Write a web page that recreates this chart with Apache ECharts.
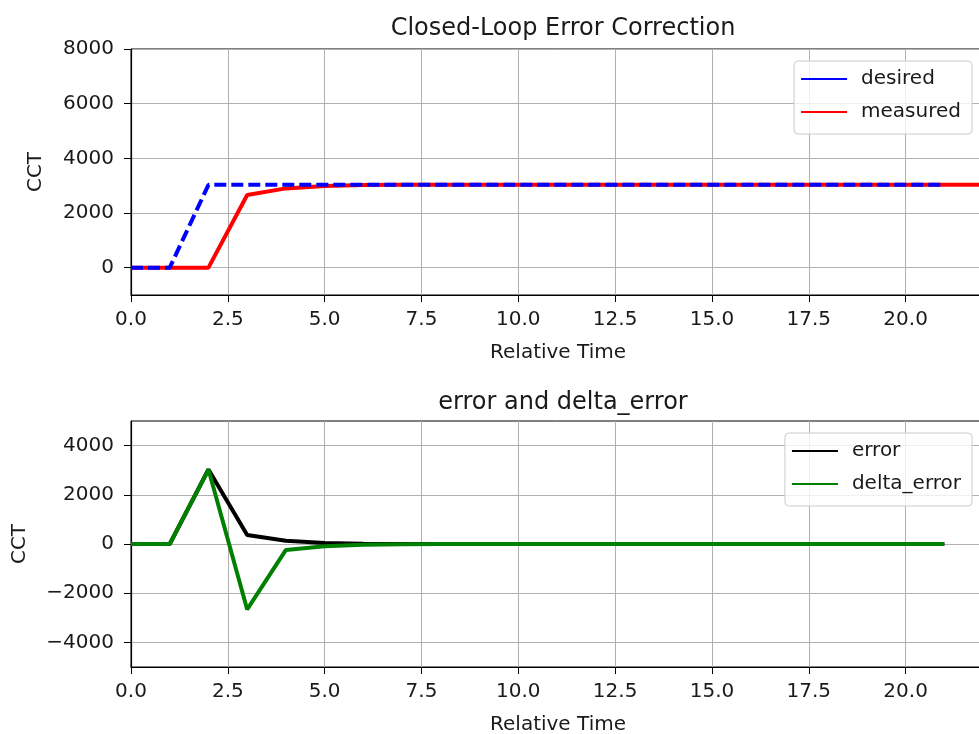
<!DOCTYPE html>
<html>
<head>
<meta charset="utf-8">
<script src="https://cdn.jsdelivr.net/npm/echarts@6/dist/echarts.min.js"></script>
<style>
html, body { margin: 0; padding: 0; background: #fff; }
#main { width: 979px; height: 734px; }
</style>
</head>
<body>
<div id="main"></div>
<script>
// time steps (seconds, relative)
var timeDesired = [0, 1, 2, 3, 4, 5, 6, 7, 8, 9, 10, 11, 12, 13, 14, 15, 16, 17, 18, 19, 20, 21];
var timeMeasured = [0, 1, 2, 3, 4, 5, 6, 7, 8, 9, 10, 11, 12, 13, 14, 15, 16, 17, 18, 19, 20, 21, 22];

var desired = [0, 0, 3030, 3030, 3030, 3030, 3030, 3030, 3030, 3030, 3030, 3030, 3030, 3030, 3030, 3030, 3030, 3030, 3030, 3030, 3030, 3030];
var measured = [0, 0, 0, 2660, 2900, 2990, 3020, 3030, 3030, 3030, 3030, 3030, 3030, 3030, 3030, 3030, 3030, 3030, 3030, 3030, 3030, 3030, 3030];

var error = [0, 0, 3030, 370, 130, 40, 10, 0, 0, 0, 0, 0, 0, 0, 0, 0, 0, 0, 0, 0, 0, 0];
var deltaError = [0, 0, 3030, -2660, -240, -90, -30, -10, 0, 0, 0, 0, 0, 0, 0, 0, 0, 0, 0, 0, 0, 0];

var topTicks = [0, 2000, 4000, 6000, 8000];
var bottomTicks = [-4000, -2000, 0, 2000, 4000];

function pairs(xs, ys) {
    return xs.map(function (x, i) { return [x, ys[i]]; });
}

var font = 'DejaVu Sans';
var myChart = echarts.init(document.getElementById('main'));

function xAxisFor(idx) {
    return {
        type: 'value',
        gridIndex: idx,
        min: 0,
        max: 22.05,
        interval: 2.5,
        name: 'Relative Time',
        nameLocation: 'middle',
        nameGap: 48,
        nameTextStyle: { fontFamily: font, fontSize: 20, color: '#1a1a1a' },
        axisLine: { onZero: false, lineStyle: { color: '#000', width: 1.2 } },
        axisTick: { show: true, length: 7, lineStyle: { color: '#000' } },
        axisLabel: {
            margin: 15,
            fontFamily: font,
            fontSize: 20,
            color: '#1a1a1a',
            showMaxLabel: false,
            formatter: function (v) { return v.toFixed(1); }
        },
        splitLine: { show: true, lineStyle: { color: '#b0b0b0', width: 1 } }
    };
}

function yAxisFor(idx, min, max, ticks, gap) {
    return {
        type: 'value',
        gridIndex: idx,
        min: min,
        max: max,
        name: 'CCT',
        nameLocation: 'middle',
        nameGap: gap,
        nameTextStyle: { fontFamily: font, fontSize: 20, color: '#1a1a1a' },
        axisLine: { show: true, onZero: false, lineStyle: { color: '#000', width: 1.2 } },
        axisTick: { show: true, length: 7, customValues: ticks, lineStyle: { color: '#000' } },
        axisLabel: {
            margin: 17,
            fontFamily: font,
            fontSize: 20,
            color: '#1a1a1a',
            customValues: ticks,
            formatter: function (v) { return v < 0 ? '\u2212' + Math.abs(v) : String(v); }
        },
        splitLine: { show: true, lineStyle: { color: '#b0b0b0', width: 1 } }
    };
}

function legendAt(top, names) {
    return {
        orient: 'vertical',
        right: 7,
        top: top,
        selectedMode: false,
        data: names,
        icon: 'rect',
        itemWidth: 46,
        itemHeight: 2,
        itemGap: 11,
        padding: [7, 11, 11, 7],
        borderColor: '#cccccc',
        borderWidth: 1,
        borderRadius: 4,
        backgroundColor: 'rgba(255,255,255,0.8)',
        textStyle: { fontFamily: font, fontSize: 20, lineHeight: 22, color: '#1a1a1a', padding: [0, 0, 0, 9] }
    };
}

option = {
    backgroundColor: '#fff',
    animation: false,
    title: [{
        text: 'Closed-Loop Error Correction',
        left: 558,
        top: 12,
        textAlign: 'center',
        textStyle: { fontFamily: font, fontSize: 24, fontWeight: 'normal', color: '#1a1a1a' }
    }, {
        text: 'error and delta_error',
        left: 558,
        top: 386,
        textAlign: 'center',
        textStyle: { fontFamily: font, fontSize: 24, fontWeight: 'normal', color: '#1a1a1a' }
    }],
    legend: [
        legendAt(61, ['desired', 'measured']),
        legendAt(433, ['error', 'delta_error'])
    ],
    grid: [{
        left: 131, width: 854, top: 49, height: 246,
        outerBoundsMode: 'none',
        show: true, borderColor: '#000', borderWidth: 1, backgroundColor: 'transparent'
    }, {
        left: 131, width: 854, top: 421, height: 246,
        outerBoundsMode: 'none',
        show: true, borderColor: '#000', borderWidth: 1, backgroundColor: 'transparent'
    }],
    xAxis: [xAxisFor(0), xAxisFor(1)],
    yAxis: [
        yAxisFor(0, -1000, 8000, topTicks, 85),
        yAxisFor(1, -5000, 5000, bottomTicks, 101)
    ],
    series: [{
        name: 'measured',
        type: 'line',
        xAxisIndex: 0,
        yAxisIndex: 0,
        data: pairs(timeMeasured, measured),
        showSymbol: false,
        color: '#ff0000',
        lineStyle: { color: '#ff0000', width: 4 },
        z: 2
    }, {
        name: 'desired',
        type: 'line',
        xAxisIndex: 0,
        yAxisIndex: 0,
        data: pairs(timeDesired, desired),
        showSymbol: false,
        color: '#0000ff',
        lineStyle: { color: '#0000ff', width: 4, type: [12, 5] },
        z: 3
    }, {
        name: 'error',
        type: 'line',
        xAxisIndex: 1,
        yAxisIndex: 1,
        data: pairs(timeDesired, error),
        showSymbol: false,
        color: '#000000',
        lineStyle: { color: '#000000', width: 4 },
        z: 2
    }, {
        name: 'delta_error',
        type: 'line',
        xAxisIndex: 1,
        yAxisIndex: 1,
        data: pairs(timeDesired, deltaError),
        showSymbol: false,
        color: '#008000',
        lineStyle: { color: '#008000', width: 4 },
        z: 3
    }]
};
myChart.setOption(option);
</script>
</body>
</html>
